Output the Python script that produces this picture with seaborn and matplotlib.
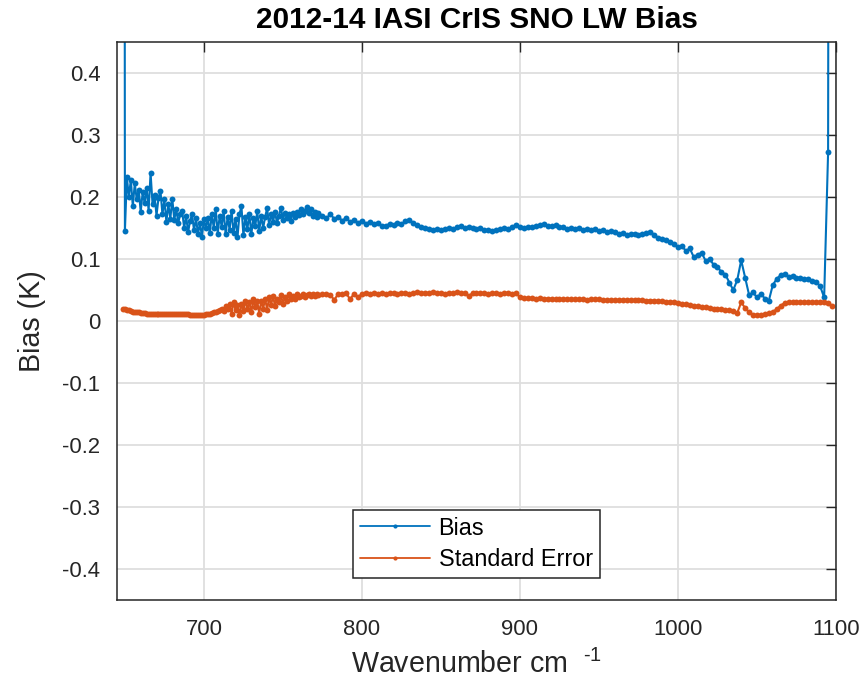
import numpy as np
import pandas as pd
import matplotlib
matplotlib.use("Agg")
import matplotlib.pyplot as plt
from matplotlib import font_manager
from matplotlib.lines import Line2D
from matplotlib.ticker import FixedLocator, FuncFormatter
import seaborn as sns

# Channel grids (cm^-1): finer sampling across the noisy low-wavenumber end
wn_fine = np.arange(648.75, 772.5 + 1e-6, 1.25)
wn_coarse = np.arange(775.0, 1097.5 + 1e-6, 2.5)

# IASI - CrIS brightness temperature bias (K)
bias_fine = [
    5.0, 0.145, 0.232, 0.200, 0.228, 0.185, 0.222, 0.196, 0.212, 0.176,
    0.208, 0.190, 0.215, 0.178, 0.239, 0.188, 0.203, 0.170, 0.198, 0.210,
    0.172, 0.196, 0.160, 0.188, 0.165, 0.197, 0.163, 0.181, 0.158, 0.172,
    0.177, 0.150, 0.169, 0.143, 0.162, 0.172, 0.146, 0.166, 0.140, 0.158,
    0.136, 0.164, 0.150, 0.166, 0.142, 0.172, 0.150, 0.180, 0.141, 0.170,
    0.152, 0.177, 0.140, 0.168, 0.147, 0.178, 0.142, 0.165, 0.135, 0.172,
    0.185, 0.138, 0.168, 0.148, 0.173, 0.140, 0.166, 0.153, 0.177, 0.145,
    0.170, 0.150, 0.168, 0.182, 0.155, 0.172, 0.160, 0.176, 0.158, 0.170,
    0.183, 0.163, 0.175, 0.166, 0.172, 0.162, 0.174, 0.168, 0.176, 0.171,
    0.180, 0.172, 0.178, 0.184, 0.174, 0.180, 0.170, 0.176, 0.168, 0.174,
]
bias_coarse = [
    0.170, 0.166, 0.172, 0.165, 0.168, 0.162, 0.166, 0.160, 0.163, 0.158,
    0.162, 0.157, 0.160, 0.156, 0.158, 0.154, 0.153, 0.157, 0.155, 0.158,
    0.156, 0.161, 0.163, 0.158, 0.155, 0.152, 0.150, 0.149, 0.147, 0.148,
    0.146, 0.148, 0.150, 0.149, 0.151, 0.153, 0.150, 0.152, 0.150, 0.148,
    0.150, 0.147, 0.146, 0.145, 0.147, 0.149, 0.150, 0.148, 0.152, 0.155,
    0.152, 0.150, 0.152, 0.151, 0.154, 0.155, 0.156, 0.154, 0.153, 0.155,
    0.152, 0.151, 0.149, 0.150, 0.148, 0.150, 0.147, 0.149, 0.146, 0.148,
    0.145, 0.147, 0.144, 0.145, 0.143, 0.141, 0.142, 0.139, 0.140, 0.141,
    0.138, 0.140, 0.142, 0.144, 0.139, 0.134, 0.132, 0.130, 0.127, 0.124,
    0.119, 0.121, 0.113, 0.117, 0.103, 0.107, 0.110, 0.097, 0.100, 0.091,
    0.087, 0.079, 0.075, 0.062, 0.050, 0.066, 0.098, 0.070, 0.042, 0.046,
    0.038, 0.044, 0.036, 0.033, 0.058, 0.068, 0.074, 0.076, 0.071, 0.073,
    0.069, 0.070, 0.067, 0.068, 0.065, 0.063, 0.056, 0.038, 0.272, 5.0,
]

# Standard error of the SNO mean bias (K)
stderr_fine = [
    0.020, 0.019, 0.018, 0.017, 0.016, 0.015, 0.015, 0.014, 0.014, 0.013,
    0.013, 0.013, 0.012, 0.012, 0.012, 0.012, 0.012, 0.011, 0.011, 0.011,
    0.011, 0.011, 0.011, 0.011, 0.011, 0.011, 0.011, 0.011, 0.011, 0.011,
    0.011, 0.011, 0.011, 0.011, 0.010, 0.010, 0.010, 0.010, 0.010, 0.010,
    0.010, 0.010, 0.011, 0.011, 0.012, 0.013, 0.014, 0.015, 0.016, 0.018,
    0.020, 0.016, 0.024, 0.019, 0.028, 0.012, 0.030, 0.018, 0.026, 0.010,
    0.028, 0.016, 0.033, 0.020, 0.030, 0.014, 0.035, 0.022, 0.032, 0.012,
    0.033, 0.020, 0.036, 0.018, 0.038, 0.026, 0.040, 0.024, 0.036, 0.030,
    0.042, 0.028, 0.038, 0.032, 0.043, 0.035, 0.040, 0.036, 0.043, 0.038,
    0.041, 0.044, 0.039, 0.042, 0.044, 0.040, 0.043, 0.041, 0.044, 0.042,
]
stderr_coarse = [
    0.043, 0.044, 0.042, 0.034, 0.044, 0.043, 0.045, 0.035, 0.044, 0.038,
    0.044, 0.045, 0.044, 0.045, 0.044, 0.045, 0.044, 0.045, 0.045, 0.044,
    0.045, 0.045, 0.044, 0.045, 0.046, 0.045, 0.045, 0.045, 0.046, 0.045,
    0.045, 0.044, 0.045, 0.045, 0.046, 0.045, 0.045, 0.040, 0.045, 0.045,
    0.045, 0.045, 0.044, 0.045, 0.045, 0.044, 0.045, 0.045, 0.044, 0.045,
    0.038, 0.037, 0.037, 0.037, 0.036, 0.037, 0.036, 0.036, 0.036, 0.035,
    0.036, 0.035, 0.035, 0.035, 0.035, 0.035, 0.035, 0.034, 0.035, 0.035,
    0.035, 0.034, 0.034, 0.034, 0.034, 0.034, 0.034, 0.034, 0.034, 0.034,
    0.034, 0.034, 0.033, 0.033, 0.033, 0.032, 0.032, 0.031, 0.031, 0.030,
    0.029, 0.028, 0.027, 0.026, 0.025, 0.024, 0.023, 0.022, 0.021, 0.020,
    0.019, 0.019, 0.018, 0.017, 0.016, 0.013, 0.030, 0.021, 0.014, 0.010,
    0.009, 0.010, 0.011, 0.013, 0.015, 0.019, 0.025, 0.029, 0.030, 0.030,
    0.030, 0.030, 0.031, 0.030, 0.030, 0.031, 0.030, 0.030, 0.029, 0.025,
]

series_names = ["Bias", "Standard Error"]
series_colors = ["#0072BD", "#D95319"]
x_ticks = [700, 800, 900, 1000, 1100]
y_ticks = [-0.4, -0.3, -0.2, -0.1, 0.0, 0.1, 0.2, 0.3, 0.4]

wavenumber = np.concatenate([wn_fine, wn_coarse])
bias = np.asarray(bias_fine + bias_coarse)
stderr = np.asarray(stderr_fine + stderr_coarse)
assert len(bias) == len(wavenumber) == len(stderr)

df = pd.DataFrame({
    "Wavenumber": np.tile(wavenumber, 2),
    "Value": np.concatenate([bias, stderr]),
    "Series": np.repeat(series_names, len(wavenumber)),
})

sns.set_theme(style="whitegrid")
names = {f.name for f in font_manager.fontManager.ttflist}
narrow = "Liberation Sans Narrow" in names
family = "Liberation Sans Narrow" if narrow else "Liberation Sans"
k = 1.0 if narrow else 0.84
plt.rcParams["font.family"] = [family, "DejaVu Sans"]
plt.rcParams["axes.unicode_minus"] = False
plt.rcParams["mathtext.fontset"] = "custom"
plt.rcParams["mathtext.rm"] = family

ink = "#262626"
fig = plt.figure(figsize=(8.65, 6.83), dpi=100)
ax = fig.add_axes([117 / 865, 1 - 600 / 683, 719 / 865, 558 / 683])
ax.set_facecolor("white")

sns.lineplot(
    data=df, x="Wavenumber", y="Value", hue="Series",
    palette=dict(zip(series_names, series_colors)),
    estimator=None, sort=False, legend=False, ax=ax,
    linewidth=1.5, marker=".", markersize=8.5, markeredgewidth=0,
)

ax.set_xlim(645, 1100)
ax.set_ylim(-0.45, 0.45)
ax.xaxis.set_major_locator(FixedLocator(x_ticks))
ax.yaxis.set_major_locator(FixedLocator(y_ticks))
ax.yaxis.set_major_formatter(FuncFormatter(lambda v, p: f"{v:g}" if abs(v) > 1e-9 else "0"))

ax.grid(True, color="#dedede", linewidth=1.3)
for s in ax.spines.values():
    s.set_color(ink)
    s.set_linewidth(1.1)
ax.tick_params(axis="both", direction="in", length=7, width=1.0, color=ink,
               labelcolor=ink, labelsize=19 * k, top=True, right=True)
ax.tick_params(axis="y", pad=12)
ax.tick_params(axis="x", pad=14)

ax.set_title("2012-14 IASI CrIS SNO LW Bias", fontsize=25.5 * k,
             fontweight="bold", color="black", pad=10)
ax.set_xlabel(r"Wavenumber cm $\;^{\text{-1}}$", fontsize=24.5 * k, color=ink, labelpad=7)
ax.set_ylabel("Bias (K)", fontsize=24.5 * k, color=ink, labelpad=12)

handles = [Line2D([], [], color=c, linewidth=1.3, marker=".", markersize=6,
                  markeredgewidth=0) for c in series_colors]
leg = ax.legend(handles, series_names, loc="lower center",
                bbox_to_anchor=(0.5, 0.04), frameon=True, fancybox=False,
                framealpha=1, edgecolor=ink, fontsize=20 * k,
                handlelength=3.0, handletextpad=0.35, borderpad=0.3,
                labelspacing=0.35, borderaxespad=0)
leg.get_frame().set_linewidth(1.1)
for t in leg.get_texts():
    t.set_color("black")

fig.savefig("out.png", dpi=100, facecolor="white")
